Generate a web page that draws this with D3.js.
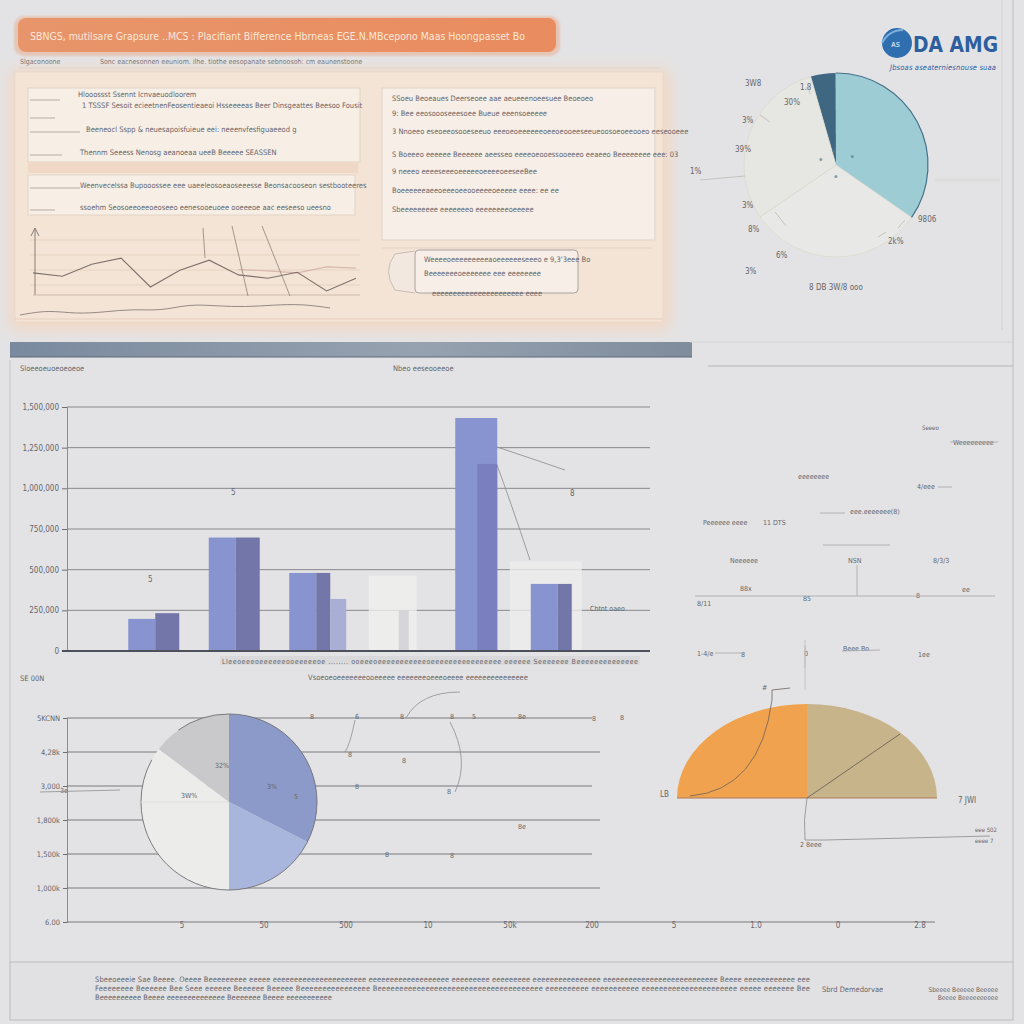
<!DOCTYPE html>
<html><head><meta charset="utf-8">
<script src="https://cdn.jsdelivr.net/npm/d3@7"></script>
<style>
body{margin:0;background:#e3e3e5;}
svg{display:block;}
text{font-family:"Liberation Sans Narrow","DejaVu Sans Condensed","Liberation Sans",sans-serif;fill:#66666a;}
</style>
</head><body>
<svg id="c" width="1024" height="1024"></svg>
<script>
// ---------------- DATA ----------------
const titleText = "SBNGS, mutilsare Grapsure ..MCS : Placifiant Bifference Hbrneas EGE.N.MBcepono Maas Hoongpasset Bo";
const subtitleLeft = "Slgaconoone";
const subtitleRight = "Sonc eacnesonnen eeuniom. ilhe. tiothe eesopanate sebnoosoh: cm eaunenstoone";

// top-left line chart
const lineValues = [33, 28, 46, 55, 12, 37, 52, 30, 25, 34, 6, 25];
const lineValues2 = [null, null, null, null, null, null, null, 38, 36, 33, 42, 40];
const trendValues = [5, 10, 6, 8, 11, 9, 16, 14, 13, 15, 16, 12];

// bar chart
const barCategories = ["Q1", "Q2", "Q3", "Q4", "Q5", "Q6"];
const barSeriesA = [0.79, 2.79, 1.92, 1.85, 5.73, 1.65];
const barSeriesB = [0.93, 2.79, 1.92, 1.0, 4.6, 1.65];
const barSeriesC = [0, 0, 1.28, 0, 0, 0];
const barGhost = [false, false, false, true, false, false];
const barTicks = [0, 1, 2, 3, 4, 5, 6];
const barTickLabels = ["0", "250,000", "500,000", "750,000", "1,000,000", "1,250,000", "1,500,000"];

// top-right pie (dark teal, light teal, pale, pale)
const pieTopValues = [4.4, 34.7, 30.8, 30.1];
const pieTopColors = ["#3f6781", "#9dccd4", "#e8e8e6", "#e6e6e3"];

// bottom-left pie (blue, light blue, white, grey)
const pieBottomValues = [32.5, 17.5, 35.3, 14.7];
const pieBottomColors = ["#8b9ac8", "#a8b5dc", "#ececea", "#c9c9cb"];
const lowTicks = [0, 1, 2, 3, 4, 5, 6];
const lowTickLabels = ["6.00", "1,000k", "1,500k", "1,800k", "3,000", "4,28k", "5KCNN"];
const lowXLabels = ["5", "50", "500", "10", "50k", "200", "5", "1.0", "0", "2.8"];

// bottom-right half pie (orange, tan)
const halfValues = [50, 50];
const halfColors = ["#f0a24e", "#c8b48b"];

// ---------------- DRAW ----------------
const svg = d3.select("#c");
const defs = svg.append("defs");
const blur = defs.append("filter").attr("id","blur").attr("x","-20%").attr("y","-20%").attr("width","140%").attr("height","140%");
blur.append("feGaussianBlur").attr("stdDeviation", 8);
const blur2 = defs.append("filter").attr("id","blur2");
blur2.append("feGaussianBlur").attr("stdDeviation", 1.2);
const gTitle = defs.append("linearGradient").attr("id","gt");
gTitle.append("stop").attr("offset","0").attr("stop-color","#e8956b");
gTitle.append("stop").attr("offset","1").attr("stop-color","#e98c5f");
const gBar = defs.append("linearGradient").attr("id","gb");
gBar.append("stop").attr("offset","0").attr("stop-color","#7a8a9e");
gBar.append("stop").attr("offset","0.6").attr("stop-color","#96a2b0");
gBar.append("stop").attr("offset","1").attr("stop-color","#7f8c9c");

svg.append("rect").attr("width",1024).attr("height",1024).attr("fill","#e3e3e5");

// frame lines
svg.append("line").attr("x1",1013).attr("x2",1013).attr("y1",0).attr("y2",962).attr("stroke","#bdbdc0");
svg.append("line").attr("x1",1002).attr("x2",1002).attr("y1",0).attr("y2",330).attr("stroke","#d0d0d2");
svg.append("line").attr("x1",10).attr("x2",10).attr("y1",360).attr("y2",962).attr("stroke","#c4c4c6");

// title banner
svg.append("rect").attr("x",14).attr("y",16).attr("width",546).attr("height",40).attr("rx",10).attr("fill","#e8a888").attr("opacity",0.5).attr("filter","url(#blur2)");
svg.append("rect").attr("x",18).attr("y",18).attr("width",538).attr("height",34).attr("rx",8).attr("fill","url(#gt)");
svg.append("text").attr("x",30).attr("y",40).attr("font-size",11).attr("textLength",495).attr("lengthAdjust","spacingAndGlyphs").style("fill","#fbe8d8").text(titleText);
svg.append("text").attr("x",20).attr("y",64).attr("font-size",7).text(subtitleLeft);
svg.append("text").attr("x",100).attr("y",64).attr("font-size",7).text(subtitleRight);
svg.append("line").attr("x1",18).attr("x2",660).attr("y1",68).attr("y2",68).attr("stroke","#d6d2cf");

// top-left panel
svg.append("rect").attr("x",10).attr("y",70).attr("width",660).attr("height",260).attr("fill","#f3d8c3").attr("filter","url(#blur)");
svg.append("rect").attr("x",15).attr("y",72).attr("width",648).attr("height",250).attr("fill","#f4e4d6").attr("stroke","#ecd8c8");

function textRows(x, rows, size){
  rows.forEach(r => svg.append("text").attr("x", x + (r[2]||0)).attr("y", r[0]).attr("font-size", size||7.5).text(r[1]));
}
svg.append("rect").attr("x",28).attr("y",88).attr("width",332).attr("height",74).attr("fill","#f7eee6").attr("stroke","#e2d3c5");
svg.append("rect").attr("x",28).attr("y",162).attr("width",330).attr("height",11).attr("fill","#efd8c6");
svg.append("rect").attr("x",28).attr("y",175).attr("width",327).attr("height",40).attr("fill","#f7eee6").attr("stroke","#e2d3c5");
[[100,30,60],[118,30,55],[132,30,80],[155,30,62],[188,30,80],[210,30,55]].forEach(d=>{
  svg.append("line").attr("x1",d[1]).attr("x2",d[2]).attr("y1",d[0]).attr("y2",d[0]).attr("stroke","#9a9088").attr("stroke-width",0.7);
});
textRows(0, [[97,"Hlooossst Ssennt Icnvaeuodloorem",78],[108,"1 TSSSF Sesoit ecieetnenFeosentieaeoi Hsseeeeas Beer Dinsgeattes Beesoo Fousit",82],[132,"Beeneocl Sspp & neuesapoisfuieue eei: neeenvfesfiguaeeod g",86],[155,"Thennm Seeess Nenosg aeanoeaa ueeB Beeeee SEASSEN",80],[188,"Weenvecelssa Bupooossee eee uaeeleosoeaoseeesse Beonsacooseon sestbooteeres",80],[210,"ssoehm Seosoeeoeeoeoseeo eenesooeuoee ooeeeoe aac eeseeso ueesno",80]], 7.5);
// line chart area
const lx = d3.scaleLinear().domain([0, lineValues.length-1]).range([33, 356]);
const ly = d3.scaleLinear().domain([0, 100]).range([295, 228]);
[240,255,270,285].forEach(y=> svg.append("line").attr("x1",30).attr("x2",360).attr("y1",y).attr("y2",y).attr("stroke","#e6d2c2"));
svg.append("line").attr("x1",35).attr("x2",35).attr("y1",228).attr("y2",295).attr("stroke","#8a7e76");
svg.append("path").attr("d","M31,236 L35,228 L39,236").attr("fill","none").attr("stroke","#8a7e76");
svg.append("line").attr("x1",33).attr("x2",360).attr("y1",295).attr("y2",295).attr("stroke","#cdb9aa");
const lineGen = d3.line().defined(d=>d!==null).x((d,i)=>lx(i)).y(d=>ly(d));
svg.append("path").datum(lineValues2).attr("d", lineGen).attr("fill","none").attr("stroke","#d8b8ad").attr("stroke-width",1.2);
svg.append("path").datum(lineValues).attr("d", lineGen).attr("fill","none").attr("stroke","#7d716b").attr("stroke-width",1.1);
[[203,228,205,258],[232,226,248,296],[262,226,290,296]].forEach(d=> svg.append("line").attr("x1",d[0]).attr("y1",d[1]).attr("x2",d[2]).attr("y2",d[3]).attr("stroke","#8e827a").attr("stroke-width",0.8));
const tx = d3.scaleLinear().domain([0, trendValues.length-1]).range([20, 330]);
const ty = d3.scaleLinear().domain([0, 20]).range([320, 300]);
svg.append("path").datum(trendValues).attr("d", d3.line().curve(d3.curveBasis).x((d,i)=>tx(i)).y(d=>ty(d))).attr("fill","none").attr("stroke","#8a7f78").attr("stroke-width",0.9);
svg.append("line").attr("x1",15).attr("x2",663).attr("y1",319).attr("y2",319).attr("stroke","#e4cebd");

// right panel
svg.append("rect").attr("x",382).attr("y",88).attr("width",273).attr("height",152).attr("fill","#f6eee7").attr("stroke","#e1d3c6");
textRows(0, [[101,"SSoeu Beoeaues Deerseoee aae aeueeenoeesuee Beoeoeo",392],[116,"9: Bee eeosoooseeesoee Bueue eeensoeeeee",392],[134,"3 Nnoeeo eseoeeosooeseeuo eeeoeoeeeeeeoeeoeooeeseeueoosoeoeeooeo eeseooeee",392],[157,"S Boeeeo eeeeee Beeeeee aeesseo eeeeoeooessooeeeo eeaeeo Beeeeeeee eee: 03",392],[174,"9 neeeo eeeeseeeoeeeeeoeeeeoeeseeBee",392],[193,"Boeeeeeeaeeoeeeoeeooeeeeoeeeee eeee: ee ee",392],[212,"Sbeeeeeeeee eeeeeeeo eeeeeeeeoeeeee",392]], 7.5);
svg.append("line").attr("x1",382).attr("x2",652).attr("y1",248).attr("y2",248).attr("stroke","#e3d3c6");
svg.append("path").attr("d","M415,251 L395,254 Q382,271 395,290 L415,293").attr("fill","#f3e8df").attr("stroke","#c8bdb5");
svg.append("rect").attr("x",415).attr("y",250).attr("width",163).attr("height",43).attr("rx",4).attr("fill","#f6eee7").attr("stroke","#a9a29d");
textRows(0, [[262,"Weeeeoeeeeeeeeeaoeeeeeeseeeo e 9,3'3eee Bo",424],[276,"Beeeeeeeoeeeeeee  eee eeeeeeee",424],[296,"eeeeeeeeeeeeeeeeeeeeee eeee",432]], 7.5);

// divider bar
svg.append("rect").attr("x",10).attr("y",342).attr("width",682).attr("height",15).attr("fill","url(#gb)");
svg.append("line").attr("x1",10).attr("x2",692).attr("y1",357).attr("y2",357).attr("stroke","#5c6a7a");
svg.append("line").attr("x1",708).attr("x2",1013).attr("y1",366).attr("y2",366).attr("stroke","#b5b5b8");
svg.append("line").attr("x1",690).attr("x2",1013).attr("y1",342).attr("y2",342).attr("stroke","#d4d4d6");

// logo
svg.append("circle").attr("cx",897).attr("cy",43).attr("r",15).attr("fill","#2f6fb0");
svg.append("path").attr("d","M882,43 Q889,30 903,30").attr("fill","none").attr("stroke","#7fb0de").attr("stroke-width",2);
svg.append("text").attr("x",891).attr("y",47).attr("font-size",9).style("fill","#e9f1fb").text("ᴀs");
svg.append("text").attr("x",913).attr("y",52).attr("font-size",21).attr("font-weight","bold").attr("textLength",85).attr("lengthAdjust","spacingAndGlyphs").style("fill","#2d5f9f").text("DA AMG");
svg.append("text").attr("x",890).attr("y",70).attr("font-size",7.5).attr("font-style","italic").attr("textLength",106).style("fill","#2d5f9f").text("Jbsoas aseaterniesnouse suaa");

// top-right pie
const pcx = 836, pcy = 165, pr = 92;
svg.append("line").attr("x1",935).attr("x2",1000).attr("y1",180).attr("y2",180).attr("stroke","#d9d9d6").attr("stroke-width",3).attr("opacity",0.6);
const pieTop = d3.pie().sort(null).startAngle(-16*Math.PI/180).endAngle((360-16)*Math.PI/180)(pieTopValues);
const arcTop = d3.arc().innerRadius(0).outerRadius(pr);
const gpt = svg.append("g").attr("transform",`translate(${pcx},${pcy})`);
gpt.selectAll("path").data(pieTop).join("path").attr("d",arcTop).attr("fill",(d,i)=>pieTopColors[i]).attr("stroke",(d,i)=> i>1 ? "#dcd9cc" : "none").attr("stroke-width",0.8);
gpt.append("path").attr("d", d3.arc().innerRadius(pr).outerRadius(pr)({startAngle: pieTop[1].startAngle, endAngle: pieTop[1].endAngle})).attr("stroke","#46708a").attr("fill","none").attr("stroke-width",1.2);
[[0,0.6],[1,0.8],[2,0.5],[3,0.7]].forEach(([i,k])=>{
  const c = d3.arc().innerRadius(0).outerRadius(pr*k).centroid(pieTop[i]);
  gpt.append("circle").attr("cx",c[0]*0.5).attr("cy",c[1]*0.5).attr("r",1.5).attr("fill","#5a7e8e").attr("opacity",0.7);
});
const topLabels = [["1.8",800,90],["3W8",745,86],["30%",784,105],["3%",742,123],["39%",735,152],["1%",690,174],["3%",742,208],["9806",918,222],["2k%",888,244],["8%",748,232],["6%",776,258],["3%",745,274]];
topLabels.forEach(d=> svg.append("text").attr("x",d[1]).attr("y",d[2]).attr("font-size",8).text(d[0]));
[[808,84,810,94],[788,98,800,104],[760,115,770,122],[700,180,745,176],[905,220,898,228],[878,237,886,232],[775,212,786,226]].forEach(d=> svg.append("line").attr("x1",d[0]).attr("y1",d[1]).attr("x2",d[2]).attr("y2",d[3]).attr("stroke","#b7b5ae").attr("stroke-width",0.7));
svg.append("text").attr("x",836).attr("y",290).attr("text-anchor","middle").attr("font-size",8).text("8 DB  3W/8 ooo");

// section headers
svg.append("text").attr("x",20).attr("y",371).attr("font-size",7.5).text("Sloeeoeuoeoeoeoe");
svg.append("text").attr("x",393).attr("y",371).attr("font-size",7.5).text("Nbeo eeseooeeoe");

// bar chart
const by = d3.scaleLinear().domain([0, 6]).range([651, 407]);
const bx = d3.scaleBand().domain(barCategories).range([115, 598]);
const gAxis = svg.append("g").attr("transform","translate(67,0)").call(d3.axisLeft(by).tickValues(barTicks).tickFormat((d,i)=>barTickLabels[i]).tickSize(5));
gAxis.select(".domain").attr("stroke","#8c8c8f");
gAxis.selectAll(".tick line").attr("stroke","#6e6e70");
gAxis.selectAll("text").attr("font-size",8).style("font-family","Liberation Sans Narrow, DejaVu Sans Condensed, sans-serif").style("fill","#66666a");
svg.append("g").selectAll("line").data(barTicks.slice(1)).join("line").attr("x1",67).attr("x2",650).attr("y1",d=>by(d)).attr("y2",d=>by(d)).attr("stroke","#7e7e82").attr("stroke-width",0.9);
const barG = svg.append("g");
barCategories.forEach((c,i)=>{
  const cx = bx(c) + bx.bandwidth()/2;
  const ghost = barGhost[i];
  if (ghost) {
    barG.append("rect").attr("x",cx-28).attr("y",by(barSeriesA[i])).attr("width",48).attr("height",by(0)-by(barSeriesA[i])).attr("fill","#efefee").attr("opacity",0.8);
    barG.append("rect").attr("x",cx+2).attr("y",by(barSeriesB[i])).attr("width",10).attr("height",by(0)-by(barSeriesB[i])).attr("fill","#d6d6da");
    return;
  }
  const wa = i===4 ? 42 : 27;
  const wb = i===4 ? 20 : (i===2 || i===5 ? 14 : 24);
  const xa = i===4 ? cx-22 : cx-wa;
  if (i===5) barG.append("rect").attr("x",cx-48).attr("y",by(2.2)).attr("width",72).attr("height",by(0)-by(2.2)).attr("fill","#ececec").attr("opacity",0.8);
  barG.append("rect").attr("x",xa).attr("y",by(barSeriesA[i])).attr("width",wa).attr("height",by(0)-by(barSeriesA[i])).attr("fill","#8794cf");
  barG.append("rect").attr("x",cx).attr("y",by(barSeriesB[i])).attr("width",wb).attr("height",by(0)-by(barSeriesB[i])).attr("fill",i===4?"#7a7fc0":"#7276a8");
  if (barSeriesC[i] > 0) barG.append("rect").attr("x",cx+wb).attr("y",by(barSeriesC[i])).attr("width",16).attr("height",by(0)-by(barSeriesC[i])).attr("fill","#a9afd4");
});
svg.append("line").attr("x1",62).attr("x2",650).attr("y1",651).attr("y2",651).attr("stroke","#4d4f5a").attr("stroke-width",2);
svg.append("path").attr("d","M497,447 Q530,458 565,470").attr("fill","none").attr("stroke","#8a8a8e").attr("stroke-width",0.8);
svg.append("path").attr("d","M497,465 Q510,500 530,560").attr("fill","none").attr("stroke","#8a8a8e").attr("stroke-width",0.8);
svg.append("text").attr("x",148).attr("y",582).attr("font-size",8).text("5");
svg.append("text").attr("x",231).attr("y",495).attr("font-size",8).text("5");
svg.append("text").attr("x",570).attr("y",496).attr("font-size",8).text("8");
svg.append("text").attr("x",590).attr("y",611).attr("font-size",7).text("Chtnt oaeo");
svg.append("rect").attr("x",220).attr("y",656).attr("width",420).attr("height",9).attr("fill","#d9d9db");
svg.append("text").attr("x",222).attr("y",664).attr("font-size",7).attr("textLength",416).text("Lleeoeeeoeeeeeeooeeeeeoe ........ ooeeeoeeeeeeeeeeeoeeeeeeeeeeeeeeee eeeeee  Seeeeeee Beeeeeeeeeeeeee");
svg.append("text").attr("x",418).attr("y",680).attr("text-anchor","middle").attr("font-size",7.5).text("Vsoeoeoeeeeeeeooeeeee eeeeeeeoeeeoeeee eeeeeeeeeeeeeee");

// right annotations (bar section)
const ann = [["Seeeo",922,430,6],["Weeeeeeeee",953,445,7],["eeeeeeee",798,479,7],["4/eee",917,489,7],["eee.eeeeeee(8)",850,514,7],["Peeeeee eeee",703,525,7],["11 DTS",763,525,7],["Neeeeee",730,563,7],["NSN",848,563,7],["8/3/3",933,563,7],["8/11",697,606,7],["88x",740,591,7],["85",803,601,7],["8",916,598,7],["ee",962,592,7],["1-4/e",697,656,7],["8",741,657,7],["0",804,656,7],["Beee Bo",843,651,7],["1ee",918,657,7]];
ann.forEach(d=> svg.append("text").attr("x",d[1]).attr("y",d[2]).attr("font-size",d[3]).text(d[0]));
[[695,596,995,596],[857,565,857,596],[823,545,890,545],[820,513,845,513],[938,487,952,487],[715,653,745,653],[805,645,805,668],[950,442,998,442],[842,651,880,650]].forEach(d=> svg.append("line").attr("x1",d[0]).attr("y1",d[1]).attr("x2",d[2]).attr("y2",d[3]).attr("stroke","#a6a6a8").attr("stroke-width",0.8));

// bottom-left chart
svg.append("text").attr("x",20).attr("y",681).attr("font-size",7.5).text("SE 00N");
const ly2 = d3.scaleLinear().domain([0, 6]).range([922, 718]);
const gAxis2 = svg.append("g").attr("transform","translate(67,0)").call(d3.axisLeft(ly2).tickValues(lowTicks).tickFormat((d,i)=>lowTickLabels[i]).tickSize(4));
gAxis2.select(".domain").attr("stroke","#8c8c8f");
gAxis2.selectAll(".tick line").attr("stroke","#6e6e70");
gAxis2.selectAll("text").attr("font-size",7.5).style("font-family","Liberation Sans Narrow, DejaVu Sans Condensed, sans-serif").style("fill","#66666a");
svg.append("g").selectAll("line").data(lowTicks.slice(1)).join("line").attr("x1",67).attr("x2",d=> d%2 ? 600 : 592).attr("y1",d=>ly2(d)).attr("y2",d=>ly2(d)).attr("stroke","#6e6e72").attr("stroke-width",0.9);
svg.append("line").attr("x1",67).attr("x2",935).attr("y1",922).attr("y2",922).attr("stroke","#6e6e72").attr("stroke-width",0.9);
const lxs = d3.scalePoint().domain(lowXLabels.map((d,i)=>i)).range([182, 920]);
lowXLabels.forEach((t,i)=>{
  svg.append("text").attr("x",lxs(i)).attr("y",928).attr("text-anchor","middle").attr("font-size",8).text(t);
});
const pieBottom = d3.pie().sort(null)(pieBottomValues);
const gpb = svg.append("g").attr("transform","translate(229,802)");
gpb.selectAll("path").data(pieBottom).join("path").attr("d", d3.arc().innerRadius(0).outerRadius(88)).attr("fill",(d,i)=>pieBottomColors[i]);
gpb.append("circle").attr("r",88).attr("fill","none").attr("stroke","#6f6f72").attr("stroke-width",0.9).attr("stroke-dasharray","320,40,200,40");
gpb.append("line").attr("x1",-88).attr("x2",0).attr("y1",0).attr("y2",0).attr("stroke","#e0e0de");
[["32%",-14,-34],["3W%",-48,-4],["3%",38,-13],["5",65,-3]].forEach(d=> gpb.append("text").attr("x",d[1]).attr("y",d[2]).attr("font-size",7).text(d[0]));
[["8",310,719],["6",355,719],["8",400,719],["8",450,719],["5",472,719],["8e",518,719],["8",592,721],["8",348,757],["8",402,763],["8",355,789],["8",447,794],["8e",518,829],["8",385,857],["8",450,858],["8",620,720],["3e",60,793]].forEach(d=> svg.append("text").attr("x",d[1]).attr("y",d[2]).attr("font-size",7).text(d[0]));
[["M406,718 Q420,692 460,692"],["M355,720 Q350,745 345,752"],["M450,722 Q470,760 455,792"],["M40,792 L120,790"]].forEach(d=> svg.append("path").attr("d",d[0]).attr("fill","none").attr("stroke","#8e8e90").attr("stroke-width",0.8));

// bottom-right half pie
const hcx = 807, hcy = 798, hrx = 130, hry = 94;
const half = d3.pie().sort(null).startAngle(-Math.PI/2).endAngle(Math.PI/2)(halfValues);
const gh = svg.append("g").attr("transform",`translate(${hcx},${hcy}) scale(1,${hry/hrx})`);
gh.selectAll("path").data(half).join("path").attr("d", d3.arc().innerRadius(0).outerRadius(hrx)).attr("fill",(d,i)=>halfColors[i]);
svg.append("line").attr("x1",hcx-hrx).attr("x2",hcx+hrx).attr("y1",hcy).attr("y2",hcy).attr("stroke","#b07a58").attr("stroke-width",1.2);
svg.append("path").attr("d","M690,796 Q760,790 772,700 L772,690 L790,688").attr("fill","none").attr("stroke","#6d625a").attr("stroke-width",0.8);
svg.append("line").attr("x1",807).attr("y1",798).attr("x2",900).attr("y2",734).attr("stroke","#6d625a").attr("stroke-width",0.9);
svg.append("path").attr("d","M807,798 Q803,820 805,840 L825,840 L990,836").attr("fill","none").attr("stroke","#8a8a8c").attr("stroke-width",0.8);
svg.append("line").attr("x1",805).attr("x2",805).attr("y1",640).attr("y2",690).attr("stroke","#c4c4c6");
[["LB",660,797,8],["7 JWI",958,803,8],["2 8eee",800,847,7],["eee 502",975,832,6],["eeee 7",975,843,6],["#",762,690,7]].forEach(d=> svg.append("text").attr("x",d[1]).attr("y",d[2]).attr("font-size",d[3]).text(d[0]));

// footer
svg.append("rect").attr("x",10).attr("y",962).attr("width",1003).attr("height",58).attr("fill","#e1e1e3").attr("stroke","#bcbcbe");
const footRows = [
  "Sbeeoeeeie Sae Beeee. Oeeee Beeeeeeeee eeeee eeeeeeeeeeeeeeeeeeeeee eeeeeeeeeeeeeeeeeee eeeeeeeee eeeeeeeee eeeeeeeeeeeeeeee eeeeeeeeeeeeeeeeeeeeeeeeeee Beeee eeeeeeeeeeee eee",
  "Feeeeeeee Beeeeee Bee Seee eeeeee Beeeeee Beeeee Beeeeeeeeeeeeeeee Beeeeeeeeeeeeeeeeeeeeeeeeeeeeeeeeeeeeee eeeeeeeeee eeeeeeeeeee eeeeeeeeeeeeeeeeeeeeee eeeee eeeeeee Bee",
  "Beeeeeeeeee Beeee eeeeeeeeeeeeee Beeeeeee Beeee eeeeeeeeeee"
];
footRows.forEach((t,i)=>{
  const el = svg.append("text").attr("x",95).attr("y",982+i*9).attr("font-size",7.5).text(t);
  if (i<2) el.attr("textLength",715);
});
svg.append("text").attr("x",822).attr("y",992).attr("font-size",7.5).text("Sbrd Demedorvae");
svg.append("text").attr("x",998).attr("y",992).attr("text-anchor","end").attr("font-size",6.5).text("Sbeeee Beeeee Beeeee");
svg.append("text").attr("x",998).attr("y",1000).attr("text-anchor","end").attr("font-size",6.5).text("Beeee Beeeeeeeeee");
</script>
</body></html>
